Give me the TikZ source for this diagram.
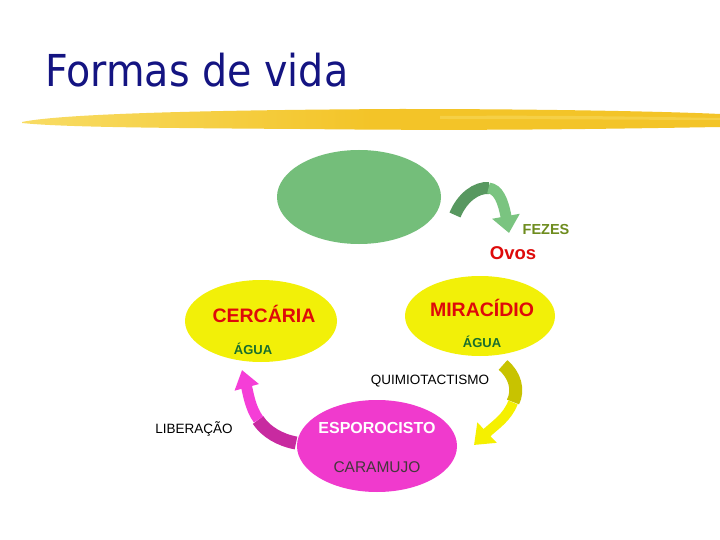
\documentclass[tikz,border=0pt]{standalone}
\usepackage{fontspec}
\setmainfont{Liberation Sans}
\newfontfamily\titlefont{DejaVu Sans}
\usetikzlibrary{shapes.geometric,arrows.meta}
\definecolor{navy}{RGB}{20,20,130}
\definecolor{brushY}{RGB}{243,196,40}
\definecolor{brushL}{RGB}{248,220,100}
\definecolor{hostG}{RGB}{116,190,122}
\definecolor{arrG1}{RGB}{88,152,96}
\definecolor{arrG2}{RGB}{122,196,128}
\definecolor{yel}{RGB}{242,240,8}
\definecolor{arrY1}{RGB}{200,195,0}
\definecolor{arrY2}{RGB}{245,240,0}
\definecolor{mag}{RGB}{240,58,205}
\definecolor{arrM1}{RGB}{200,42,160}
\definecolor{arrM2}{RGB}{245,62,215}
\definecolor{redT}{RGB}{222,10,10}
\definecolor{aguaG}{RGB}{25,110,45}
\definecolor{fezesG}{RGB}{110,140,30}
\begin{document}
\begin{tikzpicture}[x=1pt,y=-1pt,
  blob/.style={ellipse, inner sep=0pt},
  lbl/.style={inner sep=0pt, anchor=center},
  blockarrow/.style={line width=#1, line cap=butt}]
\useasboundingbox[fill=white] (0,0) rectangle (720,540);
% title
\node[anchor=base west, text=navy, font=\titlefont\fontsize{44}{44}\selectfont, inner sep=0pt] (title) at (45,87) {\scalebox{0.9}[1]{Formas de vida}};
% brush stroke
\shade[left color=brushL, right color=brushY, middle color=brushY] (22,122) .. controls (60,114) and (200,110) .. (400,109) .. controls (560,109) and (680,112) .. (720,114)
  -- (720,127) .. controls (600,129) and (480,131) .. (300,129) .. controls (150,128) and (60,127) .. (22,123) -- cycle;
\fill[brushL, opacity=0.5] (440,116) .. controls (560,115) and (660,117) .. (720,118) -- (720,120) .. controls (660,120) and (560,119) .. (440,119) -- cycle;
% ellipses
\node[blob, fill=hostG, minimum width=164pt, minimum height=94pt] (host) at (359,197) {};
\node[blob, fill=yel, minimum width=152pt, minimum height=82pt] (cerc) at (261,321) {};
\node[blob, fill=yel, minimum width=150pt, minimum height=80pt] (mira) at (480,316) {};
\node[blob, fill=mag, minimum width=160pt, minimum height=92pt] (espo) at (377,446) {};
% texts
\node[lbl, text=fezesG, font=\bfseries\fontsize{14.5}{14.5}\selectfont] (fezes) at (546,230) {FEZES};
\node[lbl, text=redT, font=\bfseries\fontsize{18.5}{18.5}\selectfont] (ovos) at (513,253) {Ovos};
\node[lbl, text=redT, font=\bfseries\fontsize{19.5}{19.5}\selectfont] (cercT) at (264,314) {CERCÁRIA};
\node[lbl, text=aguaG, font=\bfseries\fontsize{13}{13}\selectfont] (agua1) at (253,349) {ÁGUA};
\node[lbl, text=redT, font=\bfseries\fontsize{19.5}{19.5}\selectfont] (miraT) at (482,308) {MIRACÍDIO};
\node[lbl, text=aguaG, font=\bfseries\fontsize{13}{13}\selectfont] (agua2) at (482,342) {ÁGUA};
\node[lbl, text=black, font=\fontsize{13.5}{13.5}\selectfont] (quim) at (430,381) {QUIMIOTACTISMO};
\node[lbl, text=black, font=\fontsize{13.5}{13.5}\selectfont] (lib) at (194,429) {LIBERAÇÃO};
\node[lbl, text=white, font=\bfseries\fontsize{16}{16}\selectfont] (espoT) at (377,428) {ESPOROCISTO};
\node[lbl, text=black!85!magenta, font=\fontsize{15.5}{15.5}\selectfont] (cara) at (377,467) {CARAMUJO};
% green arrow (fezes)
\coordinate (g0) at (455,215);
\coordinate (g1) at (489,188);
\coordinate (g2) at (509,233);
\draw[blockarrow=12pt, arrG1] (g0) .. controls (462,198) and (476,187) .. (g1);
\draw[blockarrow=11pt, arrG2, -{Triangle[length=17pt,width=27pt]}] ([xshift=-0.5pt]g1) .. controls (498,189) and (503,200) .. (g2);
% yellow arrow (quimiotactismo)
\coordinate (y0) at (503,365);
\coordinate (y1) at (513,402);
\coordinate (y2) at (474,445);
\draw[blockarrow=13pt, arrY1] (y0) .. controls (515,375) and (519,390) .. (y1);
\draw[blockarrow=10pt, arrY2, -{Triangle[length=18pt,width=27pt]}] ([yshift=-0.5pt]y1) .. controls (507,418) and (495,425) .. (y2);
% magenta arrow (liberacao)
\coordinate (m0) at (296,443);
\coordinate (m1) at (258,420);
\coordinate (m2) at (242,370);
\draw[blockarrow=13pt, arrM1] (m0) .. controls (280,440) and (266,432) .. (m1);
\draw[blockarrow=11pt, arrM2, -{Triangle[length=18pt,width=24pt]}] ([xshift=0.5pt,yshift=0.5pt]m1) .. controls (250,408) and (248,392) .. (m2);
\end{tikzpicture}
\end{document}
